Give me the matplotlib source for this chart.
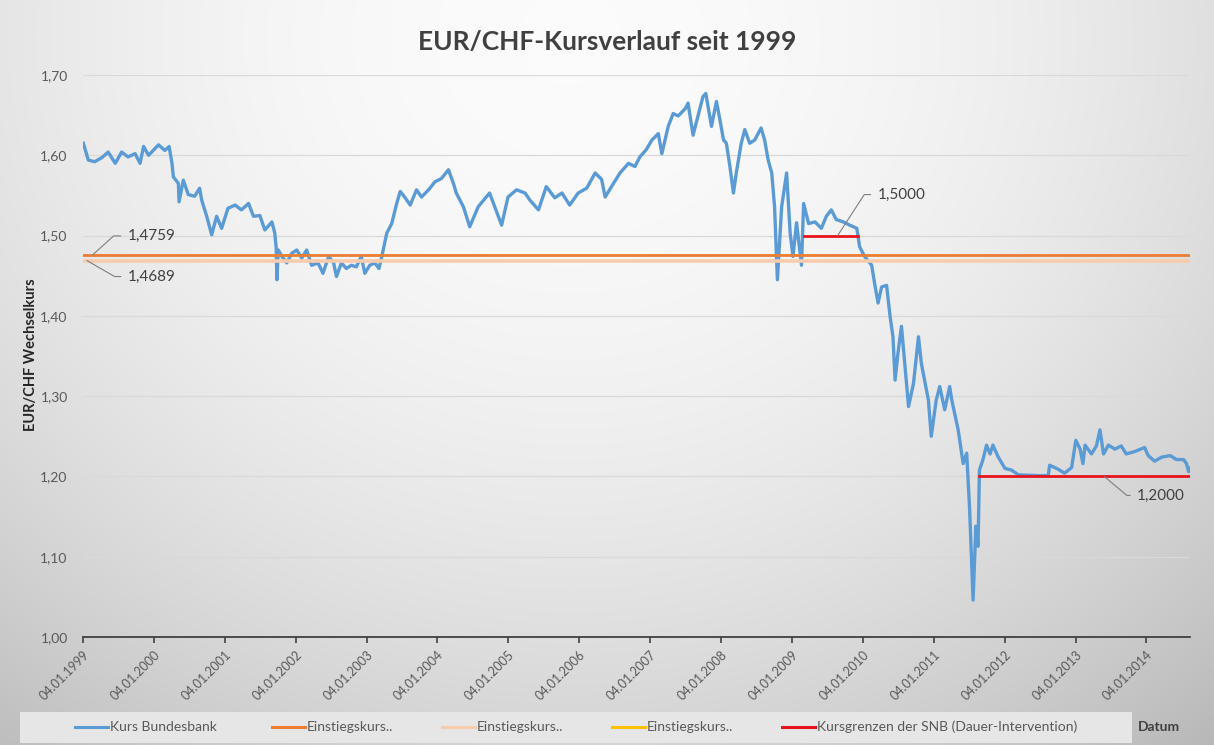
import matplotlib
matplotlib.use("Agg")
import matplotlib.pyplot as plt
import numpy as np
from matplotlib.lines import Line2D
from matplotlib.patches import Rectangle

plt.rcParams['font.family'] = ['Lato', 'DejaVu Sans']

# ---------------- data ----------------
dates = [
    1999.01, 1999.08, 1999.17, 1999.27, 1999.36, 1999.46, 1999.55, 1999.64, 1999.74, 1999.81,
    1999.86, 1999.93, 2000.07, 2000.16, 2000.22, 2000.26, 2000.28, 2000.35, 2000.36, 2000.42,
    2000.49, 2000.58, 2000.65, 2000.68, 2000.75, 2000.82, 2000.89, 2000.96, 2001.05, 2001.15,
    2001.24, 2001.34, 2001.41, 2001.50, 2001.57, 2001.67, 2001.71, 2001.73, 2001.74, 2001.76,
    2001.81, 2001.88, 2001.95, 2002.02, 2002.09, 2002.16, 2002.23, 2002.32, 2002.39, 2002.47,
    2002.54, 2002.58, 2002.65, 2002.72, 2002.79, 2002.86, 2002.93, 2002.98, 2003.05, 2003.12,
    2003.18, 2003.22, 2003.29, 2003.36, 2003.43, 2003.48, 2003.55, 2003.62, 2003.71, 2003.78,
    2003.88, 2003.97, 2004.06, 2004.16, 2004.23, 2004.27, 2004.37, 2004.46, 2004.58, 2004.74,
    2004.91, 2005.00, 2005.12, 2005.24, 2005.31, 2005.43, 2005.54, 2005.66, 2005.76, 2005.87,
    2005.99, 2006.11, 2006.23, 2006.32, 2006.37, 2006.46, 2006.58, 2006.70, 2006.79, 2006.86,
    2006.95, 2007.03, 2007.12, 2007.17, 2007.26, 2007.33, 2007.40, 2007.50, 2007.54, 2007.61,
    2007.68, 2007.75, 2007.79, 2007.87, 2007.94, 2007.99, 2008.04, 2008.08, 2008.13, 2008.18,
    2008.22, 2008.29, 2008.34, 2008.41, 2008.48, 2008.57, 2008.62, 2008.67, 2008.72, 2008.76,
    2008.80, 2008.86, 2008.93, 2008.98, 2009.02, 2009.07, 2009.14, 2009.17, 2009.24, 2009.33,
    2009.42, 2009.49, 2009.56, 2009.63, 2009.73, 2009.82, 2009.92, 2009.96, 2010.03, 2010.13,
    2010.17, 2010.22, 2010.27, 2010.34, 2010.39, 2010.43, 2010.46, 2010.50, 2010.55, 2010.60,
    2010.65, 2010.72, 2010.79, 2010.83, 2010.93, 2010.97, 2011.04, 2011.09, 2011.16, 2011.23,
    2011.26, 2011.35, 2011.42, 2011.47, 2011.51, 2011.56, 2011.60, 2011.63, 2011.65, 2011.70,
    2011.75, 2011.80, 2011.84, 2011.91, 2012.01, 2012.10, 2012.20, 2012.48, 2012.62, 2012.64,
    2012.76, 2012.85, 2012.95, 2013.01, 2013.07, 2013.11, 2013.14, 2013.23, 2013.30, 2013.35,
    2013.40, 2013.47, 2013.56, 2013.65, 2013.72, 2013.84, 2013.98, 2014.03, 2014.12, 2014.22,
    2014.34, 2014.43, 2014.53, 2014.57, 2014.60, 2014.62,
]
kurs_bundesbank = [
    1.615, 1.594, 1.592, 1.597, 1.604, 1.590, 1.604, 1.598, 1.602, 1.590,
    1.611, 1.600, 1.613, 1.606, 1.611, 1.590, 1.573, 1.565, 1.542, 1.569,
    1.551, 1.549, 1.559, 1.544, 1.524, 1.501, 1.524, 1.509, 1.534, 1.538,
    1.532, 1.540, 1.524, 1.525, 1.507, 1.517, 1.503, 1.485, 1.445, 1.482,
    1.474, 1.466, 1.478, 1.482, 1.472, 1.482, 1.463, 1.466, 1.453, 1.474,
    1.466, 1.449, 1.466, 1.459, 1.463, 1.461, 1.474, 1.453, 1.463, 1.466,
    1.459, 1.474, 1.503, 1.515, 1.540, 1.555, 1.547, 1.538, 1.557, 1.548,
    1.557, 1.567, 1.571, 1.582, 1.565, 1.553, 1.536, 1.511, 1.536, 1.553,
    1.513, 1.548, 1.557, 1.553, 1.544, 1.532, 1.561, 1.547, 1.553, 1.538,
    1.553, 1.559, 1.578, 1.570, 1.548, 1.561, 1.578, 1.590, 1.586, 1.598,
    1.607, 1.619, 1.627, 1.602, 1.636, 1.652, 1.649, 1.658, 1.665, 1.625,
    1.649, 1.673, 1.677, 1.636, 1.667, 1.644, 1.619, 1.615, 1.586, 1.553,
    1.578, 1.615, 1.632, 1.615, 1.619, 1.634, 1.619, 1.594, 1.578, 1.536,
    1.445, 1.536, 1.578, 1.503, 1.474, 1.516, 1.463, 1.540, 1.515, 1.517,
    1.509, 1.524, 1.532, 1.520, 1.517, 1.513, 1.509, 1.486, 1.474, 1.463,
    1.441, 1.416, 1.436, 1.438, 1.399, 1.374, 1.320, 1.353, 1.387, 1.337,
    1.287, 1.316, 1.374, 1.341, 1.295, 1.250, 1.295, 1.312, 1.283, 1.312,
    1.295, 1.258, 1.216, 1.229, 1.162, 1.046, 1.138, 1.113, 1.208, 1.221,
    1.239, 1.228, 1.239, 1.225, 1.210, 1.208, 1.202, 1.201, 1.201, 1.214,
    1.209, 1.204, 1.211, 1.245, 1.234, 1.216, 1.239, 1.228, 1.238, 1.258,
    1.228, 1.239, 1.234, 1.238, 1.228, 1.231, 1.236, 1.226, 1.219, 1.224,
    1.226, 1.221, 1.221, 1.216, 1.206, 1.210,
]

einstiegskurs_1 = 1.4759
einstiegskurs_2 = 1.4689
snb_grenze_1 = 1.5000
snb_grenze_1_von, snb_grenze_1_bis = 2009.17, 2009.94
snb_grenze_2 = 1.2000
snb_grenze_2_von, snb_grenze_2_bis = 2011.64, 2014.62

x_start, x_end = 1999.01, 2014.62
years = list(range(1999, 2015))
x_tick_labels = [f"04.01.{y}" for y in years]
y_ticks = [1.00, 1.10, 1.20, 1.30, 1.40, 1.50, 1.60, 1.70]
y_tick_labels = ["1,00", "1,10", "1,20", "1,30", "1,40", "1,50", "1,60", "1,70"]

legend_labels = ["Kurs Bundesbank", "Einstiegskurs..", "Einstiegskurs..",
                 "Einstiegskurs..", "Kursgrenzen der SNB (Dauer-Intervention)"]

c_blue = "#5B9BD5"
c_orange = "#ED7D31"
c_peach = "#F8CBAD"
c_yellow = "#FFC000"
c_red = "#E8141B"
c_text = "#595959"

# ---------------- figure ----------------
W, H = 1214, 745
fig = plt.figure(figsize=(W / 100, H / 100), dpi=100)

# background gradient
bg = fig.add_axes([0, 0, 1, 1], zorder=-10)
yy, xx = np.mgrid[0:1:H * 1j, 0:1:W * 1j]
d2 = ((xx - 0.47) / 0.7) ** 2 + ((yy - 0.05) / 1.05) ** 2
shade = np.clip(0.985 - 0.19 * d2, 0, 1)
bg.imshow(np.dstack([shade, shade, shade]), aspect="auto", extent=[0, 1, 0, 1],
          origin="upper", interpolation="bilinear")
bg.set_axis_off()

# legend bar
fig.add_artist(Rectangle((20 / W, 1 - 743 / H), (1132 - 20) / W, 31 / H,
                         transform=fig.transFigure, facecolor="#E6E6E6",
                         edgecolor="none", zorder=1))

ax = fig.add_axes([83 / W, 1 - 637 / H, (1190 - 83) / W, (637 - 75) / H])
ax.patch.set_alpha(0)

ax.plot(dates, kurs_bundesbank, color=c_blue, lw=2.4, zorder=3, solid_joinstyle="round")
ax.plot([x_start, x_end], [einstiegskurs_2, einstiegskurs_2], color=c_peach, lw=2.6, zorder=4)
ax.plot([x_start, x_end], [einstiegskurs_1, einstiegskurs_1], color=c_orange, lw=2.0, zorder=5)
ax.plot([snb_grenze_1_von, snb_grenze_1_bis], [snb_grenze_1, snb_grenze_1], color=c_red, lw=2.0, zorder=6)
ax.plot([snb_grenze_2_von, snb_grenze_2_bis], [snb_grenze_2, snb_grenze_2], color=c_red, lw=2.0, zorder=6)

ax.set_xlim(x_start, x_end)
ax.set_ylim(1.0, 1.7)
ax.set_yticks(y_ticks)
ax.set_yticklabels(y_tick_labels, fontsize=10, color=c_text)
ax.set_xticks([y + 0.005 for y in years])
ax.set_xticklabels(x_tick_labels, rotation=45, ha="right", rotation_mode="anchor",
                   fontsize=9, color=c_text)
ax.tick_params(axis="y", length=0, pad=11)
ax.tick_params(axis="x", length=4.5, width=1.2, color="#404040", pad=4)
ax.grid(axis="y", color="#D9D9D9", lw=0.9, zorder=0)
for s in ["top", "right", "left"]:
    ax.spines[s].set_visible(False)
ax.spines["bottom"].set_color("#404040")
ax.spines["bottom"].set_linewidth(1.3)
ax.set_axisbelow(True)

# data labels with leader lines
ann_kw = dict(textcoords="offset pixels", fontsize=11, color="#404040",
              ha="left", va="center")
def label(txt, x, y, dx, dy, angB):
    ax.annotate(txt, xy=(x, y), xytext=(dx, dy), zorder=7,
                arrowprops=dict(arrowstyle="-", color="#7F7F7F", lw=0.8,
                                shrinkA=3, shrinkB=0, relpos=(0, 0.5),
                                connectionstyle=f"angle,angleA=0,angleB={angB},rad=0"),
                **ann_kw)

label("1,4759", 1999.14, einstiegskurs_1, 35, 19, 42)
label("1,4689", 1999.06, einstiegskurs_2, 41, -16, -30)
label("1,5000", 2009.65, snb_grenze_1, 40, 41, 57)
label("1,2000", 2013.41, snb_grenze_2, 33, -19, -40)

# title and axis labels
fig.text(607 / W, 1 - 42 / H, "EUR/CHF-Kursverlauf seit 1999", ha="center", va="center",
         fontsize=19, fontweight="bold", color="#404040")
fig.text(31 / W, 1 - 355 / H, "EUR/CHF Wechselkurs", rotation=90, ha="center", va="center",
         fontsize=10.5, fontweight="bold", color="#262626")
fig.text(1159 / W, 1 - 727 / H, "Datum", ha="center", va="center",
         fontsize=10, fontweight="bold", color="#404040")

# legend (manual, one row)
leg_colors = [c_blue, c_orange, c_peach, c_yellow, c_red]
leg_x = [75, 272, 442, 612, 782]
ly = 1 - 727 / H
for lab, col, x0 in zip(legend_labels, leg_colors, leg_x):
    fig.add_artist(Line2D([x0 / W, (x0 + 33) / W], [ly, ly], transform=fig.transFigure,
                          color=col, lw=2.2, zorder=2))
    fig.text((x0 + 35) / W, ly, lab, ha="left", va="center", fontsize=10, color=c_text,
             zorder=2)

fig.savefig("out.png", dpi=100)
